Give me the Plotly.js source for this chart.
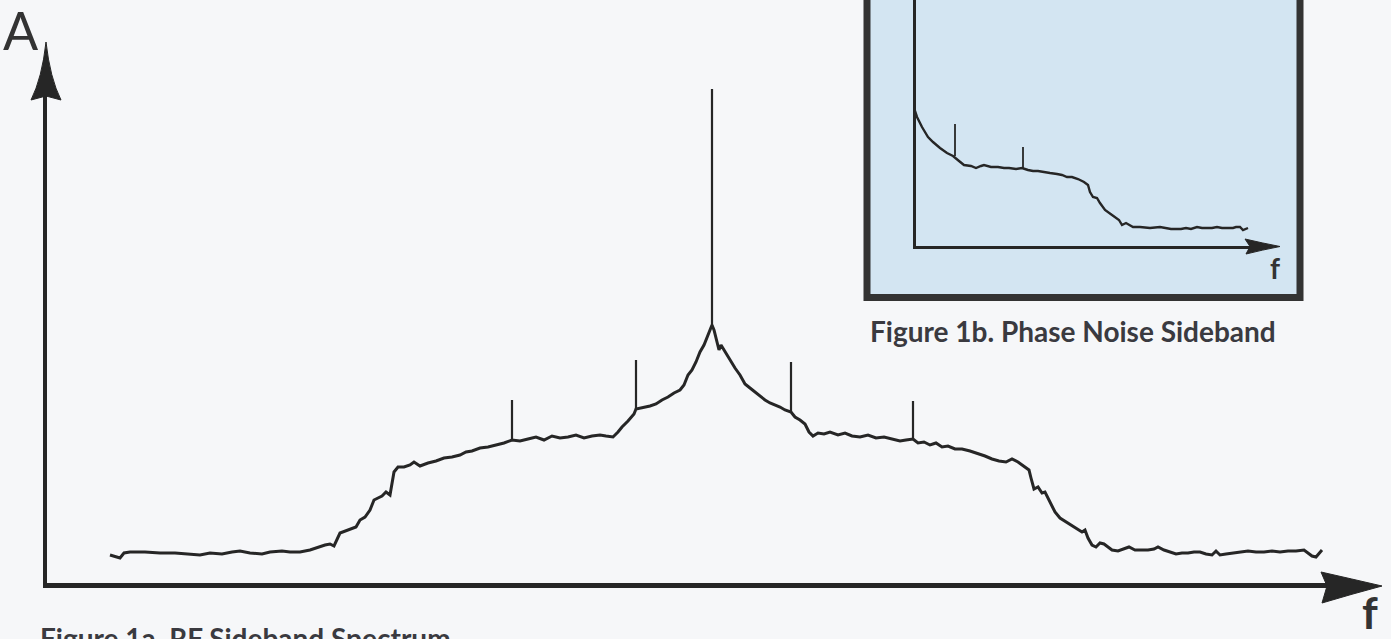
<!DOCTYPE html>
<html>
<head>
<meta charset="utf-8">
<script src="https://cdn.plot.ly/plotly-3.0.1.min.js"></script>
<style>
  html, body { margin: 0; padding: 0; background: #f6f7f9; }
  #chart { width: 1391px; height: 639px; }
</style>
</head>
<body>
<div id="chart"></div>
<script>
// ---------- Figure 1a: RF sideband spectrum (offset from carrier, amplitude) ----------
const rfFreq = [-602,-596,-592,-588,-582,-567,-552,-537,-522,-512,-502,-490,-480,-472,-462,-450,-442,-430,-422,-412,
  -402,-394,-387,-382,-378,-372,-366,-360,-356,-352,-347,-342,-338,-334,-330,-326,-322,-318,-314,-308,
  -302,-298,-292,-284,-276,-268,-260,-252,-246,-240,-232,-224,-216,-208,-200,-192,-184,-176,-168,-160,
  -152,-144,-136,-128,-120,-112,-106,-99,-94,-90,-84,-78,-76,-70,-62,-56,-50,-44,-38,-32,
  -28,-24,-20,-16,-12,-8,-4,0,2,5,7,9,12,15,19,23,28,33,38,43,
  48,53,58,63,68,73,79,83,88,93,97,101,106,112,118,126,133,140,148,156,
  164,172,180,188,194,201,206,212,218,224,230,236,243,250,258,265,273,280,287,294,
  300,306,312,317,319,322,326,330,333,336,339,343,348,354,360,366,370,373,376,380,
  384,388,392,396,400,406,412,417,423,430,436,442,446,452,458,464,470,476,482,488,
  494,500,504,508,514,520,528,536,544,552,560,568,576,584,592,596,600,604,608,610];
const rfAmp = [30,28,27,32,33,33,32,32,31,30,32,31,33,34,32,31,33,34,33,33,
  35,38,40,41,39,52,54,56,58,65,68,75,85,87,89,93,90,113,118,118,
  120,123,119,122,124,127,128,130,133,134,137,138,140,142,145,144,146,148,145,149,
  147,148,150,147,149,150,149,148,153,158,164,171,176,177,179,181,185,188,192,195,
  200,210,215,223,233,240,250,260,255,243,235,240,235,230,224,217,210,201,197,193,
  189,185,182,180,178,175,173,168,165,161,153,149,152,151,153,150,152,149,148,150,
  147,148,146,144,145,146,142,143,140,142,138,139,136,136,134,132,129,126,124,123,
  126,123,119,115,107,96,98,92,93,87,82,73,67,63,59,55,53,55,47,40,
  38,42,41,38,35,34,36,38,35,35,35,36,38,35,33,31,32,32,33,33,
  31,30,34,30,31,32,33,34,33,33,34,33,34,34,35,32,29,28,32,35];
// discrete spurs and carrier: frequency, level at the noise curve, peak level
const rfSpurFreq = [-200, -76, 0, 79, 201];
const rfSpurBase = [145, 176, 260, 173, 146];
const rfSpurTop  = [185, 225, 496, 223, 184];

// ---------- Figure 1b: phase noise sideband (single side) ----------
const pnFreq = [0,3,8,14,19,26,33,39,45,50,57,62,67,70,77,84,90,95,102,108,
  114,119,124,129,136,143,148,153,158,164,170,174,176,179,183,186,191,198,205,208,
  212,219,226,236,246,257,267,272,277,283,288,293,298,303,308,313,319,322,326,329,332,334];
const pnAmp = [140,131,121,111,106,100,95,92,87,83,82,80,82,83,81,81,80,80,79,80,
  78,77,77,76,75,74,73,71,71,69,66,63,56,51,50,45,38,33,28,23,
  25,21,21,20,21,19,19,20,19,21,20,20,20,21,20,20,20,21,21,18,19,20];
const pnSpurFreq = [41, 109];
const pnSpurBase = [92, 79];
const pnSpurTop  = [124, 101];

// ---------- labels ----------
const yLabel = "A";
const xLabel = "f";
const captionA = "Figure 1a. RF Sideband Spectrum";
const captionB = "Figure 1b. Phase Noise Sideband";

// ---------- helpers (figure geometry, pixel -> paper) ----------
const W = 1391, H = 639;
const px = v => v / W;
const py = v => 1 - v / H;
function spurXY(fr, base, top) {
  const x = [], y = [];
  fr.forEach((f, i) => { x.push(f, f, null); y.push(base[i], top[i], null); });
  return {x, y};
}
function path(cmds) {
  return cmds.map(c => c[0] + (c.length > 1 ? c.slice(1).reduce((s, p, i) => s + (i ? ' ' : '') + (i % 2 === 0 ? px(p) : py(p)), '') : '')).join(' ');
}
const ink = '#262626';

const s1 = spurXY(rfSpurFreq, rfSpurBase, rfSpurTop);
const s2 = spurXY(pnSpurFreq, pnSpurBase, pnSpurTop);

const traces = [
  {x: rfFreq, y: rfAmp, type: 'scatter', mode: 'lines', line: {color: ink, width: 3, shape: 'linear'}, hoverinfo: 'skip'},
  {x: s1.x, y: s1.y, type: 'scatter', mode: 'lines', line: {color: ink, width: 2.2}, hoverinfo: 'skip'},
  {x: pnFreq, y: pnAmp, type: 'scatter', mode: 'lines', xaxis: 'x2', yaxis: 'y2', line: {color: ink, width: 2.4}, hoverinfo: 'skip'},
  {x: s2.x, y: s2.y, type: 'scatter', mode: 'lines', xaxis: 'x2', yaxis: 'y2', line: {color: ink, width: 1.8}, hoverinfo: 'skip'}
];

const axBase = {showgrid: false, zeroline: false, showticklabels: false, ticks: '', showline: true, linecolor: ink, fixedrange: true};

const layout = {
  width: W, height: H,
  margin: {l: 0, r: 0, t: 0, b: 0, pad: 0},
  paper_bgcolor: '#f6f7f9',
  plot_bgcolor: 'rgba(0,0,0,0)',
  showlegend: false,
  xaxis: Object.assign({}, axBase, {domain: [px(47), px(1362)], range: [-665, 650], linewidth: 4.5, anchor: 'y'}),
  yaxis: Object.assign({}, axBase, {domain: [py(583), py(60)], range: [2, 525], linewidth: 4.5, anchor: 'x'}),
  xaxis2: Object.assign({}, axBase, {domain: [px(915.5), px(1262)], range: [1.5, 348], linewidth: 3, anchor: 'y2'}),
  yaxis2: Object.assign({}, axBase, {domain: [py(245.5), 1], range: [2.5, 248], linewidth: 3, anchor: 'x2'}),
  shapes: [
    {type: 'rect', xref: 'paper', yref: 'paper', x0: px(867), x1: px(1300), y0: py(297.5), y1: py(-30),
     line: {color: '#333333', width: 7}, fillcolor: '#d3e5f2', layer: 'below'},
    {type: 'path', xref: 'paper', yref: 'paper', layer: 'above', fillcolor: ink, line: {color: ink, width: 1},
     path: path([['M',46,42],['Q',50,78,61,100],['L',46,96],['L',31,100],['Q',42,78,46,42],['Z']])},
    {type: 'path', xref: 'paper', yref: 'paper', layer: 'above', fillcolor: ink, line: {color: ink, width: 1},
     path: path([['M',1382,586],['Q',1352,579,1321,572],['L',1327,586],['L',1322,603],['Q',1352,594,1382,586],['Z']])},
    {type: 'path', xref: 'paper', yref: 'paper', layer: 'above', fillcolor: ink, line: {color: ink, width: 1},
     path: path([['M',1280,246.5],['Q',1262,243,1245,239],['L',1250,246.5],['L',1246,254],['Q',1262,250,1280,246.5],['Z']])}
  ],
  annotations: [
    {text: yLabel, xref: 'paper', yref: 'paper', x: px(21), y: py(30), xanchor: 'center', yanchor: 'middle', showarrow: false,
     font: {family: 'Lato', size: 52, color: '#333333'}},
    {text: '<b>' + xLabel + '</b>', xref: 'paper', yref: 'paper', x: px(1370), y: py(612), xanchor: 'center', yanchor: 'middle', showarrow: false,
     font: {family: 'Lato', size: 44, color: '#333333'}},
    {text: '<b>' + xLabel + '</b>', xref: 'paper', yref: 'paper', x: px(1275), y: py(268), xanchor: 'center', yanchor: 'middle', showarrow: false,
     font: {family: 'Lato', size: 28, color: '#333333'}},
    {text: '<b>' + captionB + '</b>', xref: 'paper', yref: 'paper', x: px(868), y: py(331), xanchor: 'left', yanchor: 'middle', showarrow: false,
     font: {family: 'Lato', size: 28, color: '#3a3a40'}},
    {text: '<b>' + captionA + '</b>', xref: 'paper', yref: 'paper', x: px(38), y: py(638), xanchor: 'left', yanchor: 'middle', showarrow: false,
     font: {family: 'Lato', size: 28, color: '#3a3a40'}}
  ]
};

Plotly.newPlot('chart', traces, layout, {staticPlot: true, displayModeBar: false});
</script>
</body>
</html>
